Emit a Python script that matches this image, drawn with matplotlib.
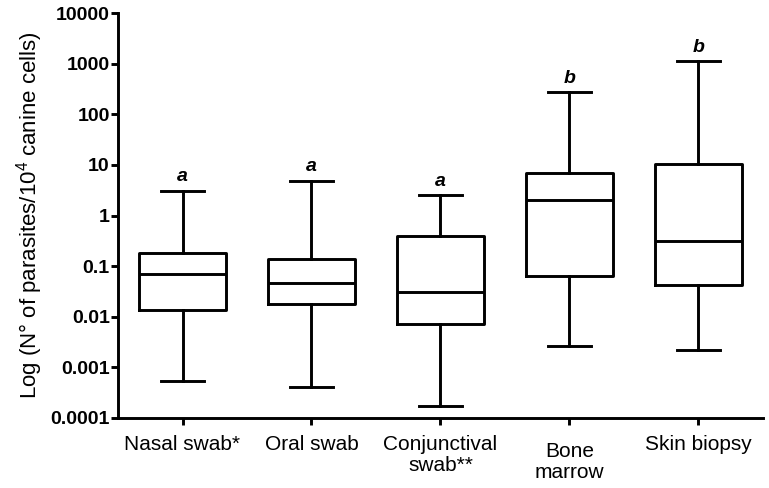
import matplotlib
matplotlib.use("Agg")
import matplotlib.pyplot as plt
import matplotlib.transforms as mtransforms

plt.rcParams['font.family'] = ['Liberation Sans', 'DejaVu Sans']
plt.rcParams['mathtext.fontset'] = 'custom'
plt.rcParams['mathtext.rm'] = 'Liberation Sans'

# values (parasites per 10^4 canine cells)
categories = ['Nasal swab*', 'Oral swab', 'Conjunctival\nswab**', 'Bone\nmarrow', 'Skin biopsy']
whisker_low = [0.00055, 0.00041, 0.00017, 0.0027, 0.0022]
q1 = [0.0135, 0.018, 0.0072, 0.063, 0.043]
medians = [0.07, 0.046, 0.031, 2.0, 0.31]
q3 = [0.18, 0.14, 0.40, 7.0, 10.5]
whisker_high = [3.1, 4.8, 2.5, 270, 1120]
letters = ['a', 'a', 'a', 'b', 'b']

ytick_vals = [0.0001, 0.001, 0.01, 0.1, 1, 10, 100, 1000, 10000]
ytick_labels = ['0.0001', '0.001', '0.01', '0.1', '1', '10', '100', '1000', '10000']

stats = []
for i in range(len(categories)):
    stats.append({'whislo': whisker_low[i], 'q1': q1[i], 'med': medians[i],
                  'q3': q3[i], 'whishi': whisker_high[i], 'fliers': []})

fig = plt.figure(figsize=(7.69, 4.88), dpi=100)
ax = fig.add_axes([118 / 769, 1 - 418 / 488, (763 - 118) / 769, (418 - 13) / 488])

lw = 2.1
positions = list(range(1, len(categories) + 1))
ax.bxp(stats, positions=positions, widths=0.67, showfliers=False,
       boxprops=dict(color='black', linewidth=lw),
       medianprops=dict(color='black', linewidth=lw),
       whiskerprops=dict(color='black', linewidth=lw),
       capprops=dict(color='black', linewidth=lw),
       capwidths=0.34)

for pos, top, letter in zip(positions, whisker_high, letters):
    ax.annotate(letter, (pos, top), xytext=(0, 4), textcoords='offset points',
                ha='center', va='bottom', fontsize=14, fontweight='bold', fontstyle='italic')

ax.set_yscale('log')
ax.set_ylim(0.0001, 10000)
ax.set_xlim(0.5, 5.5)
ax.set_yticks(ytick_vals)
ax.set_yticklabels(ytick_labels)
ax.yaxis.set_minor_locator(matplotlib.ticker.NullLocator())
ax.set_xticks(positions)
ax.set_xticklabels(categories, fontsize=15, linespacing=1.15)
for lab in ax.get_yticklabels():
    lab.set_fontweight('bold')
    lab.set_fontsize(14)

ax.set_ylabel(r'Log (N° of parasites/10$^{4}$ canine cells)', fontsize=16, labelpad=4)

for side in ['top', 'right']:
    ax.spines[side].set_visible(False)
for side in ['left', 'bottom']:
    ax.spines[side].set_linewidth(lw)
ax.tick_params(axis='both', direction='out', length=5, width=lw, pad=1)
ax.tick_params(axis='x', pad=7)

# bone marrow label sits a bit lower in the original
bm = ax.get_xticklabels()[3]
bm.set_transform(bm.get_transform() + mtransforms.ScaledTranslation(0, -5 / 72, fig.dpi_scale_trans))

fig.savefig('out.png', dpi=100)
